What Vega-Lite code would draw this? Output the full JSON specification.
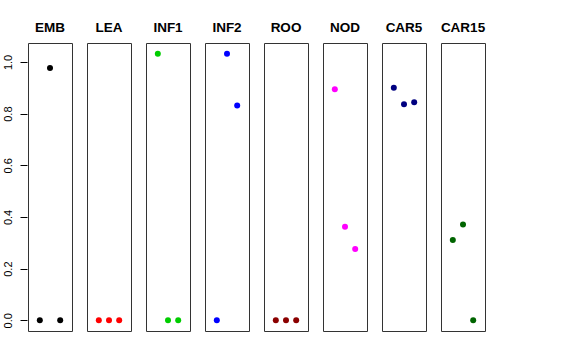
{
  "$schema": "https://vega.github.io/schema/vega-lite/v6.json",
  "padding": {"left": 1, "top": 20, "right": 5, "bottom": 5},
  "data": {"values": [
    {"tissue": "EMB", "x": 1, "y": 0},
    {"tissue": "EMB", "x": 2, "y": 0.977},
    {"tissue": "EMB", "x": 3, "y": 0},
    {"tissue": "LEA", "x": 1, "y": 0},
    {"tissue": "LEA", "x": 2, "y": 0},
    {"tissue": "LEA", "x": 3, "y": 0},
    {"tissue": "INF1", "x": 1, "y": 1.032},
    {"tissue": "INF1", "x": 2, "y": 0},
    {"tissue": "INF1", "x": 3, "y": 0},
    {"tissue": "INF2", "x": 1, "y": 0},
    {"tissue": "INF2", "x": 2, "y": 1.032},
    {"tissue": "INF2", "x": 3, "y": 0.831},
    {"tissue": "ROO", "x": 1, "y": 0},
    {"tissue": "ROO", "x": 2, "y": 0},
    {"tissue": "ROO", "x": 3, "y": 0},
    {"tissue": "NOD", "x": 1, "y": 0.894},
    {"tissue": "NOD", "x": 2, "y": 0.362},
    {"tissue": "NOD", "x": 3, "y": 0.276},
    {"tissue": "CAR5", "x": 1, "y": 0.900},
    {"tissue": "CAR5", "x": 2, "y": 0.836},
    {"tissue": "CAR5", "x": 3, "y": 0.844},
    {"tissue": "CAR15", "x": 1, "y": 0.311},
    {"tissue": "CAR15", "x": 2, "y": 0.371},
    {"tissue": "CAR15", "x": 3, "y": 0}
  ]},
  "facet": {
    "column": {
      "field": "tissue",
      "type": "nominal",
      "sort": ["EMB", "LEA", "INF1", "INF2", "ROO", "NOD", "CAR5", "CAR15"],
      "header": {
        "title": null,
        "labelFont": "Liberation Sans",
        "labelFontSize": 13.5,
        "labelFontWeight": "bold",
        "labelColor": "#000",
        "labelPadding": 8
      }
    }
  },
  "spacing": 13,
  "spec": {
    "width": 44,
    "height": 288,
    "mark": {"type": "point", "filled": true, "opacity": 1, "size": 36},
    "encoding": {
      "x": {
        "field": "x", "type": "quantitative",
        "scale": {"domain": [-0.16, 4.16], "nice": false, "zero": false},
        "axis": null
      },
      "y": {
        "field": "y", "type": "quantitative",
        "scale": {"domain": [-0.0413, 1.0733], "nice": false, "zero": false},
        "axis": {
          "title": null,
          "values": [0, 0.2, 0.4, 0.6, 0.8, 1.0],
          "format": ".1f",
          "grid": false,
          "domain": false,
          "tickColor": "#000",
          "tickSize": 7,
          "labelAngle": 270,
          "labelAlign": "center",
          "labelBaseline": "bottom",
          "labelPadding": 7,
          "labelFont": "Liberation Sans",
          "labelFontSize": 11,
          "labelColor": "#000"
        }
      },
      "color": {
        "field": "tissue", "type": "nominal", "legend": null,
        "scale": {
          "domain": ["EMB", "LEA", "INF1", "INF2", "ROO", "NOD", "CAR5", "CAR15"],
          "range": ["#000000", "#FF0000", "#00CD00", "#0000FF", "#8B0000", "#FF00FF", "#000080", "#006400"]
        }
      }
    }
  },
  "config": {
    "view": {"stroke": "#333", "strokeWidth": 1},
    "background": "white"
  }
}
